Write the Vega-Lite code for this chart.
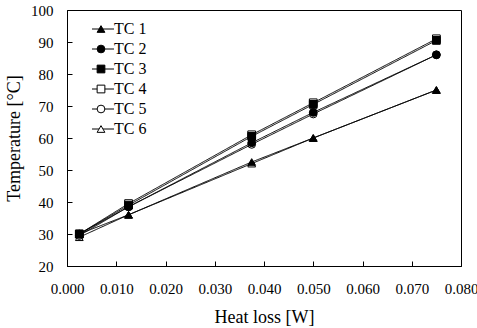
{
  "$schema": "https://vega.github.io/schema/vega-lite/v6.json",
  "autosize": "none",
  "width": 394,
  "height": 256,
  "padding": {"left": 67, "top": 10, "right": 16, "bottom": 62},
  "background": "white",
  "config": {
    "font": "Liberation Serif",
    "view": {"stroke": "black", "strokeWidth": 1},
    "axis": {"grid": false, "domainColor": "black", "tickColor": "black", "labelColor": "black", "titleColor": "black", "labelFont": "Liberation Serif", "titleFont": "Liberation Serif", "labelFontSize": 15, "titleFontSize": 18, "titleFontWeight": "normal"},
    "legend": {"labelFontSize": 16, "labelFont": "Liberation Serif", "labelColor": "black", "rowPadding": 4, "symbolStrokeColor": "black", "symbolStrokeWidth": 1, "padding": 0}
  },
  "data": {"values": [
    {"series": "TC 1", "q": 0.0025, "t": 30}, {"series": "TC 1", "q": 0.0125, "t": 36}, {"series": "TC 1", "q": 0.0375, "t": 52.5}, {"series": "TC 1", "q": 0.05, "t": 60}, {"series": "TC 1", "q": 0.075, "t": 75},
    {"series": "TC 2", "q": 0.0025, "t": 30}, {"series": "TC 2", "q": 0.0125, "t": 38.5}, {"series": "TC 2", "q": 0.0375, "t": 58.5}, {"series": "TC 2", "q": 0.05, "t": 68}, {"series": "TC 2", "q": 0.075, "t": 86},
    {"series": "TC 3", "q": 0.0025, "t": 30}, {"series": "TC 3", "q": 0.0125, "t": 39}, {"series": "TC 3", "q": 0.0375, "t": 60.5}, {"series": "TC 3", "q": 0.05, "t": 70.5}, {"series": "TC 3", "q": 0.075, "t": 90.5},
    {"series": "TC 4", "q": 0.0025, "t": 30}, {"series": "TC 4", "q": 0.0125, "t": 39.5}, {"series": "TC 4", "q": 0.0375, "t": 61}, {"series": "TC 4", "q": 0.05, "t": 71}, {"series": "TC 4", "q": 0.075, "t": 91},
    {"series": "TC 5", "q": 0.0025, "t": 29.5}, {"series": "TC 5", "q": 0.0125, "t": 38.5}, {"series": "TC 5", "q": 0.0375, "t": 58}, {"series": "TC 5", "q": 0.05, "t": 67.5}, {"series": "TC 5", "q": 0.075, "t": 86},
    {"series": "TC 6", "q": 0.0025, "t": 29}, {"series": "TC 6", "q": 0.0125, "t": 36}, {"series": "TC 6", "q": 0.0375, "t": 52}, {"series": "TC 6", "q": 0.05, "t": 60}, {"series": "TC 6", "q": 0.075, "t": 75}
  ]},
  "encoding": {
    "x": {"field": "q", "type": "quantitative", "scale": {"domain": [0, 0.08], "nice": false}, "axis": {"title": "Heat loss [W]", "values": [0, 0.01, 0.02, 0.03, 0.04, 0.05, 0.06, 0.07, 0.08], "format": ".3f", "tickSize": -5, "labelAlign": "center", "labelBaseline": "top", "labelPadding": 20, "titlePadding": 12, "labelFont": "Liberation Serif", "titleFont": "Liberation Serif"}},
    "y": {"field": "t", "type": "quantitative", "scale": {"domain": [20, 100], "nice": false, "zero": false}, "axis": {"title": "Temperature [°C]", "values": [20, 30, 40, 50, 60, 70, 80, 90, 100], "tickSize": -5, "labelAlign": "right", "labelBaseline": "middle", "labelPadding": 19, "titlePadding": 7, "labelFont": "Liberation Serif", "titleFont": "Liberation Serif"}}
  },
  "layer": [
    {"mark": {"type": "line", "color": "black", "strokeWidth": 1},
     "encoding": {
       "strokeDash": {"field": "series", "type": "nominal", "scale": {"range": [[1, 0], [1, 0], [1, 0], [1, 0], [1, 0], [1, 0]]},
         "legend": {"title": null, "orient": "none", "legendX": 28, "legendY": 11, "symbolType": "M-5,0H5", "symbolSize": 19.4, "labelExpr": "' '", "labelOffset": 2}}
     }},
    {"mark": {"type": "point", "strokeWidth": 1, "opacity": 1, "size": 60},
     "encoding": {
       "order": {"field": "series", "sort": "descending"},
       "shape": {"field": "series", "type": "nominal", "scale": {"domain": ["TC 1", "TC 2", "TC 3", "TC 4", "TC 5", "TC 6"], "range": ["triangle-up", "circle", "square", "square", "circle", "triangle-up"]},
         "legend": {"title": null, "orient": "none", "legendX": 26, "legendY": 11, "symbolSize": 60, "labelOffset": 5}},
       "fill": {"field": "series", "type": "nominal", "scale": {"domain": ["TC 1", "TC 2", "TC 3", "TC 4", "TC 5", "TC 6"], "range": ["black", "black", "black", "white", "white", "white"]},
         "legend": {"title": null, "orient": "none", "legendX": 26, "legendY": 11, "symbolSize": 60, "labelOffset": 5}},
       "stroke": {"field": "series", "type": "nominal", "scale": {"domain": ["TC 1", "TC 2", "TC 3", "TC 4", "TC 5", "TC 6"], "range": ["black", "black", "black", "black", "black", "black"]},
         "legend": {"title": null, "orient": "none", "legendX": 26, "legendY": 11, "symbolSize": 60, "labelOffset": 5}}
     }}
  ]
}
